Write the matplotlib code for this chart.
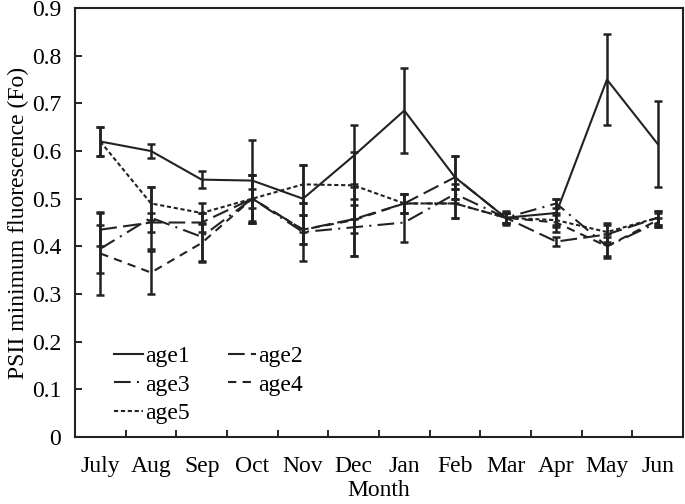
import matplotlib
matplotlib.use('Agg')
import matplotlib.pyplot as plt

months = ['July', 'Aug', 'Sep', 'Oct', 'Nov', 'Dec', 'Jan', 'Feb', 'Mar', 'Apr', 'May', 'Jun']

age1 = [0.62, 0.60, 0.54, 0.538, 0.50, 0.59, 0.685, 0.545, 0.46, 0.47, 0.75, 0.615]
age1_err = [0.03, 0.015, 0.018, 0.085, 0.07, 0.065, 0.09, 0.045, 0.015, 0.03, 0.095, 0.09]

age2 = [0.435, 0.45, 0.45, 0.50, 0.435, 0.457, 0.49, 0.545, 0.46, 0.41, 0.425, 0.46]
age2_err = [0.035, 0.02, 0.02, 0.05, 0.03, 0.03, 0.02, 0.045, 0.01, 0.01, 0.02, 0.015]

age3 = [0.395, 0.46, 0.42, 0.50, 0.43, 0.44, 0.45, 0.51, 0.46, 0.49, 0.40, 0.45]
age3_err = [0.05, 0.065, 0.05, 0.05, 0.06, 0.06, 0.04, 0.02, 0.01, 0.01, 0.025, 0.01]

age4 = [0.385, 0.345, 0.407, 0.50, 0.435, 0.455, 0.49, 0.49, 0.46, 0.45, 0.40, 0.455]
age4_err = [0.087, 0.045, 0.04, 0.05, 0.03, 0.075, 0.02, 0.03, 0.01, 0.02, 0.02, 0.015]

age5 = [0.62, 0.49, 0.47, 0.50, 0.53, 0.528, 0.49, 0.49, 0.46, 0.455, 0.43, 0.46]
age5_err = [0.03, 0.035, 0.02, 0.02, 0.04, 0.07, 0.02, 0.03, 0.01, 0.01, 0.02, 0.015]

plt.rcParams['font.family'] = ['Liberation Serif', 'DejaVu Serif']
plt.rcParams['font.size'] = 17

fig = plt.figure(figsize=(6.85, 5.04), dpi=100)
ax = fig.add_axes([0.1095, 0.133, 0.8875, 0.851])

x = list(range(len(months)))
col = '#222222'
series = [
    ('age1', age1, age1_err, '-'),
    ('age2', age2, age2_err, (0, (8, 3))),
    ('age3', age3, age3_err, (0, (8, 3, 1, 3))),
    ('age4', age4, age4_err, (0, (4, 3))),
    ('age5', age5, age5_err, (0, (2, 1.3))),
]
for name, y, e, ls in series:
    ax.errorbar(x, y, yerr=e, color=col, linestyle=ls, linewidth=1.5,
                elinewidth=1.8, capsize=3, capthick=1.8, label=name)

ax.set_xlim(-0.5, 11.5)
ax.set_ylim(0, 0.9)
ax.set_yticks([i / 10 for i in range(10)])
ax.set_yticklabels(['0'] + ['%.1f' % (i / 10) for i in range(1, 10)])
ax.set_xticks(x)
ax.set_xticklabels(months)
ax.set_xticks([i - 0.5 for i in range(13)], minor=True)
ax.tick_params(axis='x', which='major', length=0, pad=14)
ax.tick_params(axis='x', which='minor', direction='in', length=5, width=1.2)
ax.tick_params(axis='y', direction='in', length=5, width=1.2, pad=10)
for s in ax.spines.values():
    s.set_linewidth(1.5)
    s.set_color(col)

ax.set_xlabel('Month', labelpad=2)
ax.set_ylabel('PSII minimum fluorescence (Fo)', labelpad=2)

# legend is filled row by row in the reference
handles, labels = ax.get_legend_handles_labels()
handles = [h[0] for h in handles]
order = [0, 2, 4, 1, 3]
ax.legend([handles[i] for i in order], [labels[i] for i in order], ncol=2,
          frameon=False, loc='lower left', bbox_to_anchor=(0.03, -0.02),
          handlelength=1.2, handletextpad=0.1, columnspacing=1.6,
          labelspacing=0.3, fontsize=17)

fig.savefig('out.png', dpi=100)
